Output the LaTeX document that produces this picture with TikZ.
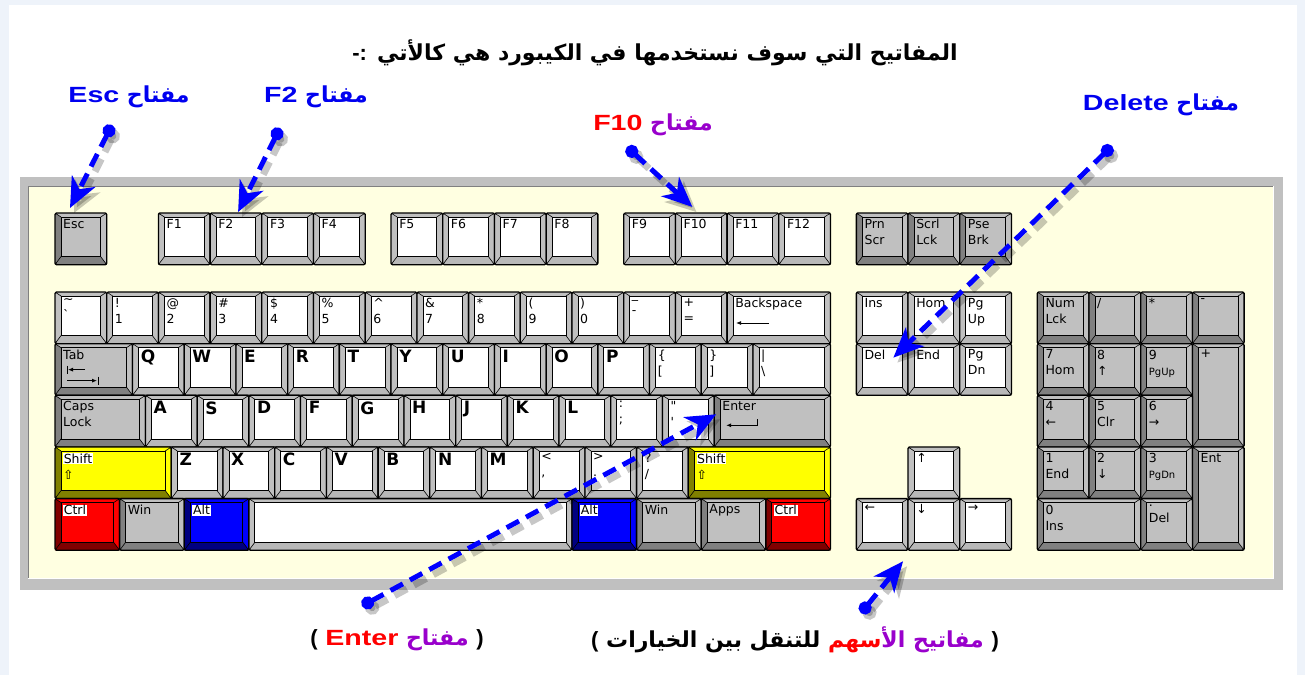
\documentclass[tikz,border=0pt]{standalone}
\usepackage{fontspec}
\usetikzlibrary{calc,arrows.meta}
\TeXXeTstate=1
\newfontfamily\arabicfont[Script=Arabic]{DejaVu Sans}
\newfontfamily\kf{DejaVu Sans}
\newfontfamily\latf[FakeStretch=1.3]{Liberation Sans}
\newfontfamily\parf{Liberation Sans}
\definecolor{bgblue}{HTML}{EEF3FA}
\definecolor{cream}{HTML}{FFFFE1}
\definecolor{frameg}{HTML}{C0C0C0}
\definecolor{lblue}{HTML}{0000F0}
\definecolor{purp}{HTML}{9900CC}
\definecolor{kwF}{HTML}{FFFFFF}\definecolor{kwS}{HTML}{C0C0C0}\definecolor{kwL}{HTML}{C0C0C0}\definecolor{kwB}{HTML}{B8B8B8}
\definecolor{kgF}{HTML}{C0C0C0}\definecolor{kgS}{HTML}{C0C0C0}\definecolor{kgL}{HTML}{808080}\definecolor{kgB}{HTML}{808080}
\definecolor{kyF}{HTML}{FFFF00}\definecolor{kyS}{HTML}{FFFF00}\definecolor{kyL}{HTML}{808000}\definecolor{kyB}{HTML}{808000}
\definecolor{krF}{HTML}{FF0000}\definecolor{krS}{HTML}{FF0000}\definecolor{krL}{HTML}{800000}\definecolor{krB}{HTML}{800000}
\definecolor{kbF}{HTML}{0000FF}\definecolor{kbS}{HTML}{0000FF}\definecolor{kbL}{HTML}{000080}\definecolor{kbB}{HTML}{000080}
\newcommand\wb[1]{{\setlength\fboxsep{0.6pt}\colorbox{white}{#1}}}
\newcommand\lt[1]{{\bfseries\fontsize{17}{17}\selectfont #1}}
\newcommand\kk[7]{%
 \pgfmathsetmacro\kxa{55+#2*51.7}%
 \pgfmathsetmacro\kw{#4*51.7}%
 \pgfmathsetmacro\kh{#5*51.65}%
 \node[keyn, minimum width=\kw pt, minimum height=\kh pt, anchor=north west] (#1) at (\kxa,#3) {};%
 \fill[#6S, rounded corners=2pt] (#1.north west) rectangle (#1.south east);%
 \fill[#6L] (#1.north west) -- ($(#1.north west)+(6,4)$) -- ($(#1.south west)+(6,-8)$) -- (#1.south west) -- cycle;%
 \fill[#6B] (#1.south west) -- ($(#1.south west)+(6,-8)$) -- ($(#1.south east)+(-6,-8)$) -- (#1.south east) -- cycle;%
 \draw[line width=0.6pt] (#1.north west) -- ++(6,4) (#1.north east) -- ++(-6,4) (#1.south west) -- ++(6,-8) (#1.south east) -- ++(-6,-8);%
 \draw[fill=#6F, line width=0.8pt] ($(#1.north west)+(6,4)$) rectangle ($(#1.south east)+(-6,-8)$);%
 \draw[line width=1.3pt, rounded corners=1.5pt] (#1.north west) rectangle (#1.south east);%
 \node[klab] at ($(#1.north west)+(8,6)$) {#7};%
}
\tikzset{
 keyn/.style={draw=none, inner sep=0pt, outer sep=0pt},
 klab/.style={anchor=north west, align=left, inner sep=0pt, font=\kf\fontsize{12.5}{16}\selectfont},
 arlab/.style={inner sep=0pt, font=\arabicfont\bfseries\fontsize{22}{26}\selectfont},
 conn/.style={draw=blue, line width=5pt, dash pattern=on 14pt off 8pt,
   arrows={Circle[length=13pt]-Stealth[length=30pt,width=26pt,inset=9pt]}},
 connsh/.style={draw=black, opacity=0.22, line width=7pt, dash pattern=on 14pt off 8pt,
   arrows={Circle[length=14pt]-Stealth[length=30pt,width=28pt,inset=9pt]},
   transform canvas={shift={(4pt,-5pt)}}},
 tkarrow/.style={line width=0.8pt, -{Latex[length=5pt,width=4pt]}}
}
\begin{document}
\begin{tikzpicture}[x=1pt,y=-1pt]
\useasboundingbox (0,0) rectangle (1305,675);
\fill[bgblue] (0,0) rectangle (1305,675);
\fill[white] (9,5) rectangle (1297,675);
% keyboard frame
\fill[frameg] (20,177) rectangle (1283,590);
\fill[cream] (28,186) rectangle (1273,578);
\draw[black!50, line width=1pt] (28,578) -- (28,186) -- (1273,186);
\draw[white, line width=1pt] (1273.5,186) -- (1273.5,578.5) -- (28,578.5);
\def\rA{213}\def\rB{292}\def\rC{343.65}\def\rD{395.3}\def\rE{446.95}\def\rF{498.6}
% function row
\kk{kesc}{0}{\rA}{1}{1}{kg}{Esc}
\kk{kf1}{2}{\rA}{1}{1}{kw}{F1}
\kk{kf2}{3}{\rA}{1}{1}{kw}{F2}
\kk{kf3}{4}{\rA}{1}{1}{kw}{F3}
\kk{kf4}{5}{\rA}{1}{1}{kw}{F4}
\kk{kf5}{6.5}{\rA}{1}{1}{kw}{F5}
\kk{kf6}{7.5}{\rA}{1}{1}{kw}{F6}
\kk{kf7}{8.5}{\rA}{1}{1}{kw}{F7}
\kk{kf8}{9.5}{\rA}{1}{1}{kw}{F8}
\kk{kf9}{11}{\rA}{1}{1}{kw}{F9}
\kk{kf10}{12}{\rA}{1}{1}{kw}{F10}
\kk{kf11}{13}{\rA}{1}{1}{kw}{F11}
\kk{kf12}{14}{\rA}{1}{1}{kw}{F12}
\kk{kprn}{15.5}{\rA}{1}{1}{kg}{Prn\\Scr}
\kk{kscr}{16.5}{\rA}{1}{1}{kg}{Scrl\\Lck}
\kk{kpse}{17.5}{\rA}{1}{1}{kg}{Pse\\Brk}
% number row
\kk{ktil}{0}{\rB}{1}{1}{kw}{\textasciitilde\\\textasciigrave}
\kk{kn1}{1}{\rB}{1}{1}{kw}{!\\1}
\kk{kn2}{2}{\rB}{1}{1}{kw}{@\\2}
\kk{kn3}{3}{\rB}{1}{1}{kw}{\#\\3}
\kk{kn4}{4}{\rB}{1}{1}{kw}{\$\\4}
\kk{kn5}{5}{\rB}{1}{1}{kw}{\%\\5}
\kk{kn6}{6}{\rB}{1}{1}{kw}{\textasciicircum\\6}
\kk{kn7}{7}{\rB}{1}{1}{kw}{\&\\7}
\kk{kn8}{8}{\rB}{1}{1}{kw}{*\\8}
\kk{kn9}{9}{\rB}{1}{1}{kw}{(\\9}
\kk{kn0}{10}{\rB}{1}{1}{kw}{)\\0}
\kk{kmin}{11}{\rB}{1}{1}{kw}{\_\\-}
\kk{keq}{12}{\rB}{1}{1}{kw}{+\\=}
\kk{kbksp}{13}{\rB}{2}{1}{kw}{Backspace}
\kk{kins}{15.5}{\rB}{1}{1}{kw}{Ins}
\kk{khom}{16.5}{\rB}{1}{1}{kw}{Hom}
\kk{kpgu}{17.5}{\rB}{1}{1}{kw}{Pg\\Up}
\kk{knum}{19}{\rB}{1}{1}{kg}{Num\\Lck}
\kk{kdiv}{20}{\rB}{1}{1}{kg}{/}
\kk{kmul}{21}{\rB}{1}{1}{kg}{*}
\kk{ksub}{22}{\rB}{1}{1}{kg}{-}
% Q row
\kk{ktab}{0}{\rC}{1.5}{1}{kg}{Tab}
\kk{kq}{1.5}{\rC}{1}{1}{kw}{\lt{Q}}
\kk{kw}{2.5}{\rC}{1}{1}{kw}{\lt{W}}
\kk{ke}{3.5}{\rC}{1}{1}{kw}{\lt{E}}
\kk{kr}{4.5}{\rC}{1}{1}{kw}{\lt{R}}
\kk{kt}{5.5}{\rC}{1}{1}{kw}{\lt{T}}
\kk{ky}{6.5}{\rC}{1}{1}{kw}{\lt{Y}}
\kk{ku}{7.5}{\rC}{1}{1}{kw}{\lt{U}}
\kk{ki}{8.5}{\rC}{1}{1}{kw}{\lt{I}}
\kk{ko}{9.5}{\rC}{1}{1}{kw}{\lt{O}}
\kk{kp}{10.5}{\rC}{1}{1}{kw}{\lt{P}}
\kk{klbr}{11.5}{\rC}{1}{1}{kw}{\{\\{[}}
\kk{krbr}{12.5}{\rC}{1}{1}{kw}{\}\\{]}}
\kk{kbsl}{13.5}{\rC}{1.5}{1}{kw}{\textbar\\\textbackslash}
\kk{kdel}{15.5}{\rC}{1}{1}{kw}{Del}
\kk{kend}{16.5}{\rC}{1}{1}{kw}{End}
\kk{kpgd}{17.5}{\rC}{1}{1}{kw}{Pg\\Dn}
\kk{kp7}{19}{\rC}{1}{1}{kg}{7\\Hom}
\kk{kp8}{20}{\rC}{1}{1}{kg}{8\\↑}
\kk{kp9}{21}{\rC}{1}{1}{kg}{9\\{\fontsize{10}{10}\selectfont PgUp}}
\kk{kplus}{22}{\rC}{1}{2}{kg}{+}
% A row
\kk{kcaps}{0}{\rD}{1.75}{1}{kg}{Caps\\Lock}
\kk{ka}{1.75}{\rD}{1}{1}{kw}{\lt{A}}
\kk{ks}{2.75}{\rD}{1}{1}{kw}{\lt{S}}
\kk{kd}{3.75}{\rD}{1}{1}{kw}{\lt{D}}
\kk{kf}{4.75}{\rD}{1}{1}{kw}{\lt{F}}
\kk{kg}{5.75}{\rD}{1}{1}{kw}{\lt{G}}
\kk{kh}{6.75}{\rD}{1}{1}{kw}{\lt{H}}
\kk{kj}{7.75}{\rD}{1}{1}{kw}{\lt{J}}
\kk{kk}{8.75}{\rD}{1}{1}{kw}{\lt{K}}
\kk{kl}{9.75}{\rD}{1}{1}{kw}{\lt{L}}
\kk{ksemi}{10.75}{\rD}{1}{1}{kw}{:\\;}
\kk{kquo}{11.75}{\rD}{1}{1}{kw}{"\\\textquotesingle}
\kk{kent}{12.75}{\rD}{2.25}{1}{kg}{Enter}
\kk{kp4}{19}{\rD}{1}{1}{kg}{4\\←}
\kk{kp5}{20}{\rD}{1}{1}{kg}{5\\Clr}
\kk{kp6}{21}{\rD}{1}{1}{kg}{6\\→}
% Z row
\kk{klsh}{0}{\rE}{2.25}{1}{ky}{\wb{Shift}\\⇧}
\kk{kz}{2.25}{\rE}{1}{1}{kw}{\lt{Z}}
\kk{kx}{3.25}{\rE}{1}{1}{kw}{\lt{X}}
\kk{kc}{4.25}{\rE}{1}{1}{kw}{\lt{C}}
\kk{kv}{5.25}{\rE}{1}{1}{kw}{\lt{V}}
\kk{kb}{6.25}{\rE}{1}{1}{kw}{\lt{B}}
\kk{kn}{7.25}{\rE}{1}{1}{kw}{\lt{N}}
\kk{km}{8.25}{\rE}{1}{1}{kw}{\lt{M}}
\kk{kcom}{9.25}{\rE}{1}{1}{kw}{<\\,}
\kk{kper}{10.25}{\rE}{1}{1}{kw}{>\\.}
\kk{ksla}{11.25}{\rE}{1}{1}{kw}{?\\/}
\kk{krsh}{12.25}{\rE}{2.75}{1}{ky}{\wb{Shift}\\⇧}
\kk{kup}{16.5}{\rE}{1}{1}{kw}{↑}
\kk{kp1}{19}{\rE}{1}{1}{kg}{1\\End}
\kk{kp2}{20}{\rE}{1}{1}{kg}{2\\↓}
\kk{kp3}{21}{\rE}{1}{1}{kg}{3\\{\fontsize{10}{10}\selectfont PgDn}}
\kk{kpent}{22}{\rE}{1}{2}{kg}{Ent}
% bottom row
\kk{klctl}{0}{\rF}{1.25}{1}{kr}{\wb{Ctrl}}
\kk{klwin}{1.25}{\rF}{1.25}{1}{kg}{Win}
\kk{klalt}{2.5}{\rF}{1.25}{1}{kb}{\wb{Alt}}
\kk{kspace}{3.75}{\rF}{6.25}{1}{kw}{}
\kk{kralt}{10}{\rF}{1.25}{1}{kb}{\wb{Alt}}
\kk{krwin}{11.25}{\rF}{1.25}{1}{kg}{Win}
\kk{kapps}{12.5}{\rF}{1.25}{1}{kg}{Apps}
\kk{krctl}{13.75}{\rF}{1.25}{1}{kr}{\wb{Ctrl}}
\kk{kleft}{15.5}{\rF}{1}{1}{kw}{←}
\kk{kdown}{16.5}{\rF}{1}{1}{kw}{↓}
\kk{kright}{17.5}{\rF}{1}{1}{kw}{→}
\kk{kp0}{19}{\rF}{2}{1}{kg}{0\\Ins}
\kk{kpdot}{21}{\rF}{1}{1}{kg}{.\\Del}
% key symbols
\draw[tkarrow] ($(ktab.north west)+(30,26)$) -- ($(ktab.north west)+(13,26)$);
\draw[line width=0.8pt] ($(ktab.north west)+(12,22)$) -- ++(0,8);
\draw[tkarrow] ($(ktab.north west)+(12,37)$) -- ($(ktab.north west)+(42,37)$);
\draw[line width=0.8pt] ($(ktab.north west)+(43,33)$) -- ++(0,8);
\draw[tkarrow] ($(kbksp.north west)+(42,31)$) -- ($(kbksp.north west)+(9,31)$);
\draw[tkarrow] ($(kent.north west)+(43,24)$) -- ++(0,6) -- ($(kent.north west)+(12,30)$);
% texts
\node[arlab] (title) at (655,53) {{\parf\bfseries -:} \beginR المفاتيح التي سوف نستخدمها في الكيبورد هي كالأتي\endR};
\node[arlab, text=lblue] (lesc) at (129,97) {\beginR مفتاح {\latf\beginL Esc\endL}\endR};
\node[arlab, text=lblue] (lf2) at (316,97) {\beginR مفتاح {\latf\beginL F2\endL}\endR};
\node[arlab] (lf10) at (653,125) {{\latf\color{red}F10} {\color{purp}مفتاح}};
\node[arlab, text=lblue] (ldel) at (1161,105) {\beginR مفتاح {\latf\beginL Delete\endL}\endR};
\node[arlab] (lenter) at (397,640) {{\parf\bfseries(} {\latf\color{red}Enter} {\color{purp}مفتاح} {\parf\bfseries)}};
\node[arlab] (larrows) at (795,640) {{\parf\bfseries(} \beginR للتنقل بين الخيارات\endR\ {\color{red}سهم}{\color{purp}الأ} {\color{purp}مفاتيح} {\parf\bfseries)}};
% connectors
\coordinate (escdot) at (112,125);
\coordinate (esctip) at ($(kesc.north west)+(15,-5)$);
\coordinate (f2dot) at (280,128);
\coordinate (f2tip) at ($(kf2.north west)+(28,-1)$);
\coordinate (f10dot) at (627,147);
\coordinate (f10tip) at ($(kf10.north west)+(17,-6)$);
\coordinate (deldot) at (1112,146);
\coordinate (deltip) at ($(kdel.north west)+(37,14)$);
\coordinate (entdot) at (362,606);
\coordinate (enttip) at ($(kent.north west)+(2,19)$);
\coordinate (arrdot) at (861,613);
\coordinate (arrtip) at ($(kdown.south west)+(-5,11)$);
\foreach \a in {esc,f2,f10,del,ent,arr}{
  \draw[connsh] (\a dot) -- (\a tip);
  \draw[conn] (\a dot) -- (\a tip);
}
\end{tikzpicture}
\end{document}
